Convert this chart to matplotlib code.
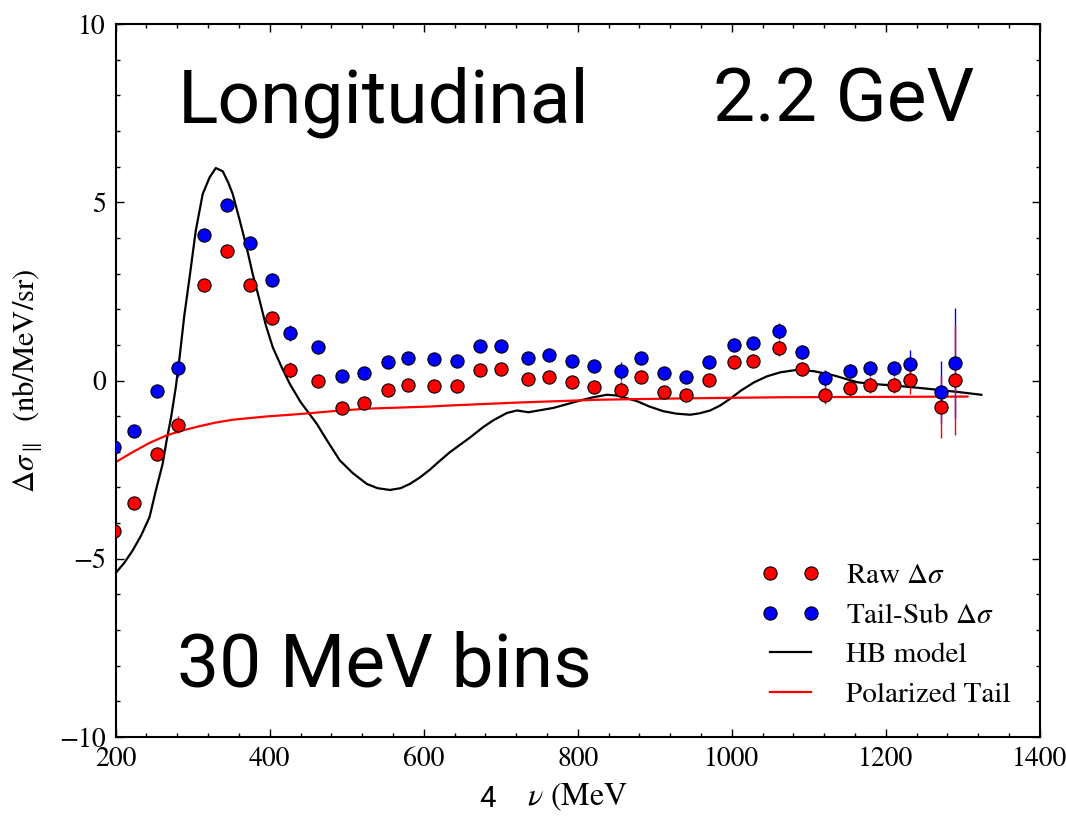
import matplotlib
matplotlib.use("Agg")
import matplotlib.pyplot as plt
from matplotlib.ticker import MultipleLocator
from matplotlib.lines import Line2D

# ---- data ----
nu = [198, 224, 254, 281, 315, 344, 374, 403, 427, 463,
      494, 523, 553, 580, 613, 643, 673, 700, 736, 762,
      792, 821, 856, 882, 912, 941, 971, 1003, 1028, 1061,
      1091, 1121, 1153, 1179, 1211, 1232, 1271, 1290]
raw = [-4.23, -3.43, -2.06, -1.24, 2.68, 3.63, 2.68, 1.75, 0.30, -0.01,
       -0.76, -0.63, -0.28, -0.13, -0.15, -0.15, 0.30, 0.32, 0.03, 0.09,
       -0.04, -0.17, -0.26, 0.09, -0.32, -0.40, 0.02, 0.51, 0.56, 0.92,
       0.32, -0.41, -0.21, -0.12, -0.12, 0.02, -0.75, 0.02]
tailsub = [-1.87, -1.43, -0.30, 0.34, 4.08, 4.91, 3.85, 2.83, 1.33, 0.93,
           0.13, 0.22, 0.52, 0.63, 0.59, 0.54, 0.97, 0.96, 0.64, 0.71,
           0.54, 0.40, 0.27, 0.64, 0.21, 0.11, 0.51, 1.00, 1.04, 1.39,
           0.80, 0.06, 0.27, 0.34, 0.34, 0.47, -0.31, 0.49]
err = [0.10, 0.10, 0.12, 0.24, 0.12, 0.10, 0.10, 0.12, 0.23, 0.12,
       0.12, 0.12, 0.12, 0.12, 0.12, 0.12, 0.12, 0.12, 0.12, 0.12,
       0.15, 0.15, 0.25, 0.15, 0.15, 0.15, 0.15, 0.18, 0.18, 0.23,
       0.20, 0.24, 0.20, 0.22, 0.22, 0.40, 0.87, 1.55]

hb_nu = [200, 211, 222, 233, 244, 252, 261, 266, 272, 278, 283, 289, 296, 304,
         313, 322, 330, 339, 346, 352, 361, 370, 378, 387, 395, 404, 415, 426,
         440, 461, 475, 491, 508, 526, 540, 556, 570, 582, 595, 608, 620, 634,
         660, 677, 690, 708, 721, 736, 768, 785, 803, 820, 838, 851, 864, 877,
         893, 911, 928, 946, 958, 972, 985, 998, 1012, 1029, 1046, 1063, 1085,
         1107, 1133, 1163, 1185, 1211, 1254, 1297, 1324]
hb_val = [-5.40, -5.12, -4.77, -4.35, -3.83, -3.10, -2.34, -1.70, -1.03, -0.20, 0.65, 1.80, 2.90, 4.20,
          5.23, 5.70, 5.96, 5.87, 5.56, 5.23, 4.50, 3.74, 2.98, 2.24, 1.55, 0.93, 0.40, -0.09,
          -0.60, -1.21, -1.70, -2.24, -2.60, -2.90, -3.02, -3.07, -3.02, -2.90, -2.72, -2.50, -2.27, -2.01,
          -1.60, -1.31, -1.12, -0.91, -0.84, -0.89, -0.77, -0.67, -0.56, -0.47, -0.40, -0.42, -0.50, -0.58,
          -0.73, -0.86, -0.93, -0.96, -0.92, -0.84, -0.70, -0.51, -0.28, -0.05, 0.12, 0.23, 0.30,
          0.26, 0.14, -0.05, -0.10, -0.14, -0.23, -0.33, -0.40]

tail_nu = [200, 222, 244, 266, 287, 309, 330, 352, 395, 439, 482, 526, 608, 634, 720, 825, 940, 1063, 1180, 1306]
tail_val = [-2.29, -2.01, -1.75, -1.54, -1.40, -1.28, -1.18, -1.10, -1.01, -0.94, -0.86, -0.79, -0.73, -0.70,
            -0.62, -0.54, -0.50, -0.47, -0.46, -0.45]

xticks = [200, 400, 600, 800, 1000, 1200, 1400]
yticks = [-10, -5, 0, 5, 10]

# ---- style ----
plt.rcParams['font.family'] = ['STIXGeneral', 'DejaVu Serif']
plt.rcParams['mathtext.fontset'] = 'stix'

fig = plt.figure(figsize=(10.66, 8.17), dpi=100)
ax = fig.add_axes([0.1085, 0.0979, 0.867, 0.8727])

ax.errorbar(nu, tailsub, yerr=err, fmt='o', color='blue', mec='black', mew=0.8,
            ms=9.5, ecolor='blue', elinewidth=1.0, capsize=0, zorder=3)
ax.errorbar(nu, raw, yerr=err, fmt='o', color='red', mec='black', mew=0.8,
            ms=9.5, ecolor='red', elinewidth=1.0, capsize=0, zorder=3)
ax.plot(hb_nu, hb_val, color='black', lw=1.6, zorder=2)
ax.plot(tail_nu, tail_val, color='red', lw=1.6, zorder=2)

ax.set_xlim(200, 1400)
ax.set_ylim(-10, 10)
ax.set_xticks(xticks)
ax.set_yticks(yticks)
ax.xaxis.set_minor_locator(MultipleLocator(40))
ax.yaxis.set_minor_locator(MultipleLocator(1))
ax.tick_params(which='both', direction='in', top=True, right=True, labelsize=20, width=1.0)
ax.tick_params(which='major', length=6, pad=7)
ax.tick_params(which='minor', length=3)
for s in ax.spines.values():
    s.set_linewidth(1.5)

ax.set_ylabel(r'$\Delta\sigma_{\parallel}$  (nb/MeV/sr)', fontsize=22, labelpad=10)
ax.set_xlabel(r'$\nu$ (MeV', fontsize=23, labelpad=6)

big = dict(family=['Roboto', 'DejaVu Sans'], fontweight='normal', fontsize=54, color='black')
ax.text(0.0674, 0.8626, 'Longitudinal', transform=ax.transAxes, va='baseline', ha='left', **big)
ax.text(0.646, 0.8626, '2.2 GeV', transform=ax.transAxes, va='baseline', ha='left', **big)
ax.text(0.066, 0.0715, '30 MeV bins', transform=ax.transAxes, va='baseline', ha='left', **big)
fig.text(479 / 1066, 4 / 817, '4', family=['Roboto', 'DejaVu Sans'], fontweight='normal',
         fontsize=21, va='bottom', ha='left')

handles = [
    Line2D([], [], ls='none', marker='o', color='red', mec='black', mew=0.8, ms=9.5),
    Line2D([], [], ls='none', marker='o', color='blue', mec='black', mew=0.8, ms=9.5),
    Line2D([], [], color='black', lw=1.6),
    Line2D([], [], color='red', lw=1.6),
]
labels = [r'Raw $\Delta\sigma$', r'Tail-Sub $\Delta\sigma$', 'HB model', 'Polarized Tail']
ax.legend(handles, labels, loc='lower right', numpoints=2, frameon=False, fontsize=21,
          handlelength=2.0, handletextpad=0.9, labelspacing=0.45, borderaxespad=0.6)

fig.savefig('out.png', dpi=100)
